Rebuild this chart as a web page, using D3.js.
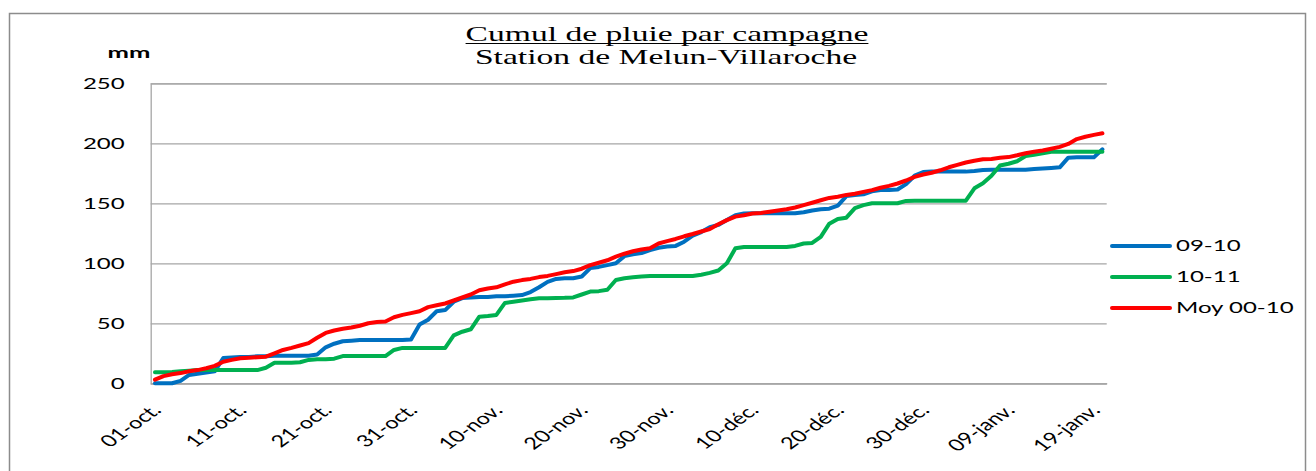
<!DOCTYPE html>
<html lang="fr">
<head>
    <meta charset="UTF-8">
    <title>Cumul de pluie par campagne</title>
    <script src="https://cdn.jsdelivr.net/npm/d3@7"></script>
    <style>
        body {
            margin: 0;
            padding: 0;
            background: #fff;
            overflow: hidden;
        }
        .sans { font-family: Lato, "Open Sans", sans-serif; fill: #000; }
        .serif { font-family: "Liberation Serif", "Times New Roman", serif; fill: #000; }
    </style>
</head>
<body>
    <svg id="chart" width="1316" height="471"></svg>
    <script>
        // categories: one per day, 1 Oct -> 20 Jan
        const days = d3.timeDay.range(new Date(2009, 9, 1), new Date(2010, 0, 21));
        const tickLabels = ["01-oct.", "11-oct.", "21-oct.", "31-oct.", "10-nov.", "20-nov.",
                            "30-nov.", "10-déc.", "20-déc.", "30-déc.", "09-janv.", "19-janv."];
        const yTicks = [0, 50, 100, 150, 200, 250];
        const seriesNames = ["09-10", "10-11", "Moy 00-10"];
        const seriesColors = ["#0070C0", "#00B050", "#FF0000"];

        // cumulative rain (mm)
        const s0910 = [
            0, 0, 0, 2, 7, 8, 9, 10, 21, 21.5,
            22, 22, 22.5, 22.5, 23, 23, 23, 23, 23, 24,
            30, 33, 35, 35.5, 36, 36, 36, 36, 36, 36,
            36.5, 49, 53, 60, 61, 68, 71, 71.5, 72, 72,
            72.5, 72.5, 73, 73.5, 76, 80, 84.5, 87, 87.5, 87.5,
            89, 96, 97, 98.5, 100, 106, 107.5, 108.5, 111, 113,
            114, 114.5, 118, 123, 126, 130, 132, 136, 140, 141.5,
            141.7, 141.7, 141.7, 141.7, 141.7, 141.7, 142.5, 144, 145, 145.5,
            148, 156, 157, 157.5, 160, 161, 161, 161.5, 166, 173,
            176, 176.4, 176.4, 176.4, 176.4, 176.4, 177, 177.8, 178, 178,
            178, 178, 178, 178.5, 179, 179.5, 180, 188, 188.3, 188.3,
            188.3, 195
        ];
        const s1011 = [
            9.2, 9.2, 9.5, 10, 10.5, 11, 11, 11, 11, 11,
            11, 11, 11, 13, 17.2, 17.2, 17.2, 17.5, 19.5, 20,
            20, 20.5, 22.7, 22.7, 22.7, 22.7, 22.7, 22.7, 27.8, 29.5,
            29.5, 29.5, 29.5, 29.5, 29.5, 40, 43, 45, 55.5, 56,
            57, 67, 68, 69, 70, 70.8, 70.8, 71, 71.2, 71.6,
            74, 76.4, 76.8, 78, 86.1, 87.5, 88.3, 89, 89.4, 89.4,
            89.4, 89.4, 89.4, 89.4, 90.5, 92, 94, 100, 112.5, 113.5,
            113.5, 113.5, 113.5, 113.5, 113.5, 114.5, 116.5, 117, 122, 133,
            137, 138, 146, 148.5, 150, 150, 150, 150, 152, 152.2,
            152.2, 152.2, 152.2, 152.2, 152.2, 152.2, 162.5, 166.7, 173, 181.5,
            183, 185, 189.4, 190.5, 191.7, 193, 193, 193, 193, 193,
            193, 193
        ];
        const moy0010 = [
            3, 6, 7.5, 8.5, 10, 11, 12.5, 14.5, 18, 19.5,
            20.8, 21.3, 21.8, 22.2, 25, 27.8, 29.5, 31.5, 33.5, 38,
            42, 44, 45.5, 46.5, 48, 50, 51, 51.5, 55, 57,
            58.5, 60, 63.5, 65, 66.5, 69, 71.5, 74, 77.5, 79,
            80, 82.5, 84.7, 86, 87, 88.5, 89.5, 91, 92.5, 93.5,
            95.5, 98.5, 100.5, 102.5, 105.5, 108, 110, 111.5, 112.5, 116.5,
            118.5, 120.3, 122.5, 124.4, 126.5, 128.5, 132.5, 136, 138.9, 140,
            141.5, 142, 143, 144, 145, 146.5, 148.5, 150.5, 152.5, 154.5,
            155.5, 157, 158, 159.5, 161, 163, 164.5, 166.5, 169, 172,
            174, 175.5, 177.5, 180, 182, 184, 185.5, 186.7, 187, 188,
            188.5, 190, 191.7, 193, 194, 195.5, 197, 199.5, 203.5, 205.5,
            207, 208.3
        ];
        const series = [s0910, s1011, moy0010];

        const svg = d3.select('#chart');
        const SX = 1.6; // the original chart is stretched horizontally

        const plot = { left: 150.7, right: 1106.7, top: 83.3, bottom: 383.3 };

        const x = d3.scalePoint()
            .domain(d3.range(days.length))
            .range([plot.left, plot.right])
            .padding(0.5);
        const y = d3.scaleLinear()
            .domain([0, 250])
            .range([plot.bottom, plot.top]);

        // outer frame
        svg.append('rect')
            .attr('x', 9.5).attr('y', 13.5)
            .attr('width', 1296).attr('height', 480)
            .attr('fill', '#fff')
            .attr('stroke', '#8c8c8c')
            .attr('stroke-width', 1.5);

        // title
        const title1 = svg.append('text')
            .attr('class', 'serif')
            .attr('transform', `translate(667,41) scale(${SX},1)`)
            .attr('text-anchor', 'middle')
            .attr('font-size', 21)
            .text('Cumul de pluie par campagne');
        const tb = title1.node().getBoundingClientRect();
        svg.append('line')
            .attr('x1', tb.left).attr('x2', tb.right)
            .attr('y1', 43.5).attr('y2', 43.5)
            .attr('stroke', '#000').attr('stroke-width', 1);
        svg.append('text')
            .attr('class', 'serif')
            .attr('transform', `translate(666,64) scale(${SX},1)`)
            .attr('text-anchor', 'middle')
            .attr('font-size', 21)
            .text('Station de Melun-Villaroche');

        // unit
        svg.append('text')
            .attr('class', 'sans')
            .attr('transform', `translate(129,58) scale(${SX},1)`)
            .attr('text-anchor', 'middle')
            .attr('font-size', 16)
            .attr('font-weight', 'bold')
            .text('mm');

        // y axis + gridlines
        const yAxis = svg.append('g')
            .attr('transform', `translate(${plot.left},0)`)
            .call(d3.axisLeft(y).tickValues(yTicks).tickSize(-(plot.right - plot.left)).tickPadding(0));
        yAxis.selectAll('.tick line')
            .attr('stroke', '#a6a6a6')
            .attr('stroke-width', 1.3);
        yAxis.select('.domain')
            .attr('stroke', '#a6a6a6')
            .attr('stroke-width', 1.3);
        yAxis.selectAll('.tick text')
            .attr('class', 'sans')
            .attr('x', 0)
            .attr('dy', '0.35em')
            .attr('font-size', 15)
            .attr('transform', `translate(-26,0) scale(${SX},1)`);

        // x axis
        const xAxis = svg.append('g')
            .attr('transform', `translate(0,${plot.bottom})`)
            .call(d3.axisBottom(x)
                .tickValues(d3.range(0, days.length, 10))
                .tickFormat((d, i) => tickLabels[i])
                .tickSize(0));
        xAxis.select('.domain')
            .attr('stroke', '#a6a6a6')
            .attr('stroke-width', 1.5);
        xAxis.selectAll('.tick text')
            .attr('class', 'sans')
            .attr('y', 0)
            .attr('dy', 0)
            .attr('font-size', 16.5)
            .attr('text-anchor', 'end')
            .attr('transform', 'translate(7,28) scale(1.42,1) rotate(-45)');

        // series
        const line = d3.line()
            .x((d, i) => x(i))
            .y(d => y(d));

        series.forEach((values, k) => {
            svg.append('path')
                .datum(values)
                .attr('fill', 'none')
                .attr('stroke', seriesColors[k])
                .attr('stroke-width', 4)
                .attr('stroke-linejoin', 'round')
                .attr('stroke-linecap', 'round')
                .attr('d', line);
        });

        // legend
        const legend = svg.append('g');
        const legendY = [246, 277, 308];
        seriesNames.forEach((name, k) => {
            legend.append('line')
                .attr('x1', 1112).attr('x2', 1170)
                .attr('y1', legendY[k]).attr('y2', legendY[k])
                .attr('stroke', seriesColors[k])
                .attr('stroke-width', 4)
                .attr('stroke-linecap', 'round');
            legend.append('text')
                .attr('class', 'sans')
                .attr('transform', `translate(1176,${legendY[k]}) scale(${SX},1)`)
                .attr('dy', '0.35em')
                .attr('font-size', 15)
                .text(name);
        });
    </script>
</body>
</html>
